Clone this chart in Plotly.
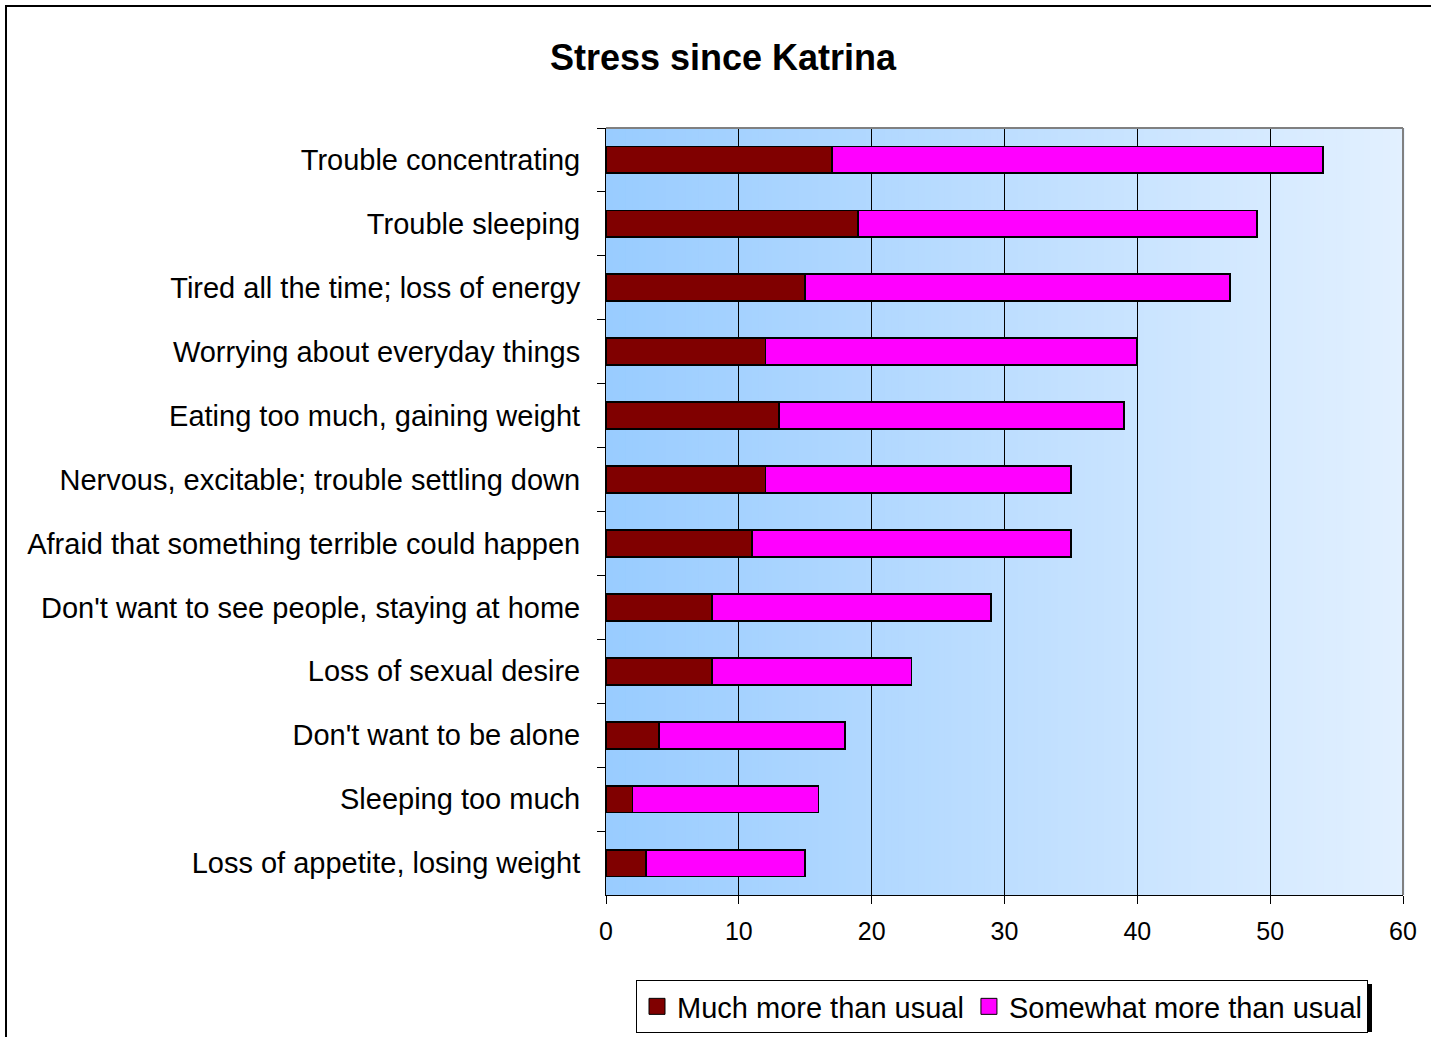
import plotly.graph_objects as go

categories = [
    "Trouble concentrating",
    "Trouble sleeping",
    "Tired all the time; loss of energy",
    "Worrying about everyday things",
    "Eating too much, gaining weight",
    "Nervous, excitable; trouble settling down",
    "Afraid that something terrible could happen",
    "Don't want to see people, staying at home",
    "Loss of sexual desire",
    "Don't want to be alone",
    "Sleeping too much",
    "Loss of appetite, losing weight",
]
much_more = [17, 19, 15, 12, 13, 12, 11, 8, 8, 4, 2, 3]
somewhat_more = [37, 30, 32, 28, 26, 23, 24, 21, 15, 14, 14, 12]
series_names = ["Much more than usual", "Somewhat more than usual"]
series_colors = ["#800000", "#FF00FF"]
x_ticks = [0, 10, 20, 30, 40, 50, 60]

W, H = 1431, 1037
L, R, T, B = 606, 28, 128, 142
PW, PH = W - L - R, H - T - B

def px_to_paper_x(px):
    return (px - L) / PW

def px_to_paper_y(py):
    return (H - B - py) / PH

FONT = "Arial, Liberation Sans, sans-serif"

fig = go.Figure()
for vals, name, col in zip([much_more, somewhat_more], series_names, series_colors):
    fig.add_trace(go.Bar(
        y=categories, x=vals, name=name, orientation="h", showlegend=False,
        marker=dict(color=col, line=dict(color="black", width=1.8)),
    ))
# legend entries with larger square symbols
for name, col in zip(series_names, series_colors):
    fig.add_trace(go.Scatter(
        x=[None], y=[None], mode="markers", name=name,
        marker=dict(symbol="square", size=16, color=col, line=dict(color="black", width=1)),
    ))

shapes = []
# gradient background
n = 120
c0 = (153, 204, 255)
c1 = (226, 240, 255)
for i in range(n):
    t = i / (n - 1)
    col = tuple(round(c0[k] + (c1[k] - c0[k]) * t) for k in range(3))
    shapes.append(dict(type="rect", xref="x domain", yref="y domain",
                       x0=i / n, x1=(i + 1) / n + 0.002, y0=0, y1=1,
                       fillcolor="rgb(%d,%d,%d)" % col, line=dict(width=0), layer="below"))
# gray top/right plot border
shapes.append(dict(type="line", xref="paper", yref="paper", x0=0, x1=1, y0=1, y1=1,
                   line=dict(color="#808080", width=2), layer="above"))
shapes.append(dict(type="line", xref="paper", yref="paper", x0=1, x1=1, y0=0, y1=1,
                   line=dict(color="#808080", width=2), layer="above"))
# chart outer border
shapes.append(dict(type="rect", xref="paper", yref="paper",
                   x0=px_to_paper_x(6), x1=px_to_paper_x(1450),
                   y0=px_to_paper_y(1060), y1=px_to_paper_y(6),
                   line=dict(color="black", width=2), fillcolor="rgba(0,0,0,0)", layer="above"))
# legend shadow
shapes.append(dict(type="rect", xref="paper", yref="paper",
                   x0=px_to_paper_x(640), x1=px_to_paper_x(1372),
                   y0=px_to_paper_y(1032), y1=px_to_paper_y(984),
                   line=dict(width=0), fillcolor="black", layer="above"))

fig.update_layout(
    width=W, height=H,
    margin=dict(l=L, r=R, t=T, b=B, autoexpand=False),
    paper_bgcolor="white",
    plot_bgcolor="rgba(0,0,0,0)",
    barmode="stack",
    bargap=0.58,
    font=dict(family=FONT, color="black"),
    title=dict(text="<b>Stress since Katrina</b>", x=723 / W, xanchor="center",
               y=1 - 57 / H, yanchor="middle", yref="container", xref="container",
               font=dict(size=36, family=FONT, color="black")),
    xaxis=dict(range=[0, 60], tickvals=x_ticks, ticktext=[str(v) for v in x_ticks],
               showgrid=True, gridcolor="black", gridwidth=1,
               showline=True, linecolor="black", linewidth=1,
               ticks="outside", ticklen=8, tickcolor="black",
               tickfont=dict(size=25, family=FONT, color="black"),
               zeroline=False, ticklabelstandoff=6),
    yaxis=dict(autorange="reversed", showgrid=False,
               showline=True, linecolor="black", linewidth=1,
               ticks="outside", ticklen=8, tickcolor="black", tickson="boundaries",
               tickfont=dict(size=29, family=FONT, color="black"),
               ticklabelstandoff=19),
    legend=dict(orientation="h", x=px_to_paper_x(1002), xanchor="center",
                y=px_to_paper_y(980), yanchor="top",
                bgcolor="white", bordercolor="black", borderwidth=1,
                font=dict(size=29, family=FONT, color="black"),
                traceorder="normal", itemclick=False, itemdoubleclick=False),
    shapes=shapes,
)

fig.write_html("out.html", config={"displayModeBar": False},
               post_script="document.body.style.margin='0';document.body.style.overflow='hidden';")
